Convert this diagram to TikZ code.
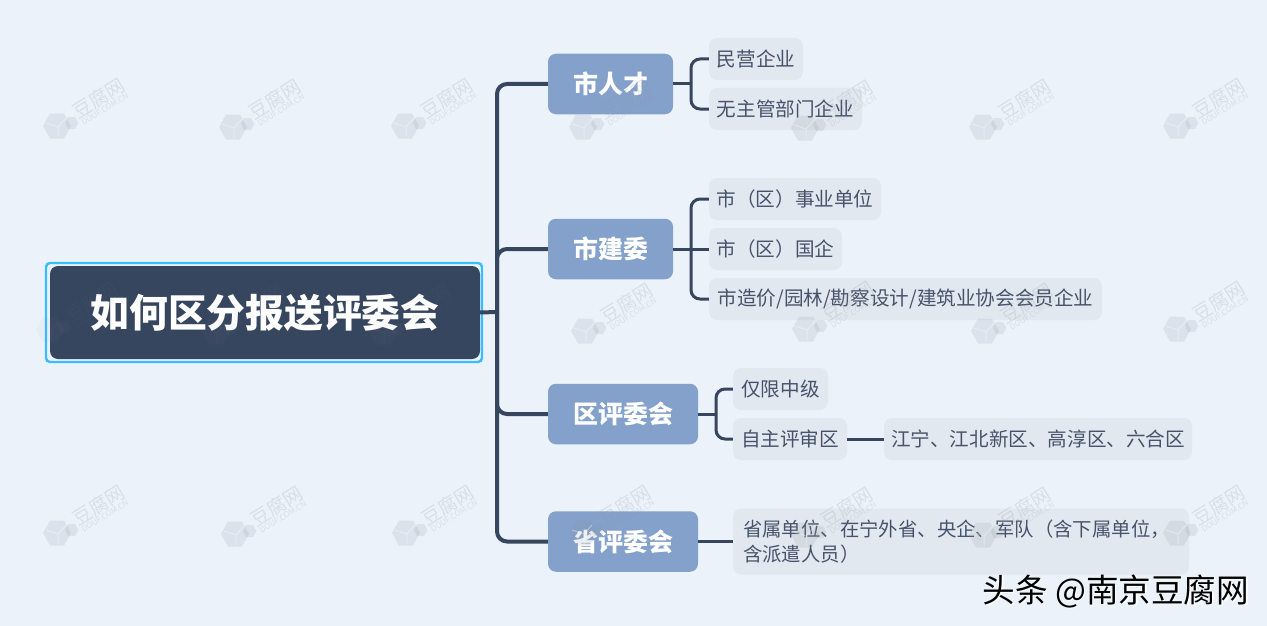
\documentclass[tikz,border=0pt]{standalone}
\usepackage{fontspec}
\setmainfont{Noto Sans CJK SC}
\definecolor{bgc}{HTML}{EBF2FA}
\definecolor{darkc}{HTML}{36465E}
\definecolor{midc}{HTML}{84A1CB}
\definecolor{leafc}{HTML}{E2E8F0}
\definecolor{leaft}{HTML}{46536A}
\definecolor{ringc}{HTML}{38BDFD}
\definecolor{wmc}{HTML}{8C939E}
\newcommand{\wmtxt}{.2}
\newcommand{\wmhex}{.16}
\newcommand{\wmlin}{.35}
\tikzset{
  x=1pt,y=-1pt,
  ringbox/.style={draw=ringc,line width=2.4pt,rounded corners=4pt,minimum width=436pt,minimum height=99pt,inner sep=0pt},
  rootbox/.style={fill=darkc,rounded corners=8pt,minimum width=430pt,minimum height=93pt,inner sep=0pt,text=white,font=\fontsize{38.8}{44}\selectfont\bfseries},
  midbox/.style={fill=midc,rounded corners=8pt,minimum height=60.5pt,inner sep=0pt,text=white,font=\fontsize{25}{30}\selectfont\bfseries},
  leafbox/.style={fill=leafc,rounded corners=8pt,minimum height=42pt,inner sep=0pt,text=leaft,font=\fontsize{19.6}{24}\selectfont},
  spine/.style={draw=darkc,line width=4pt,rounded corners=10pt},
  twig/.style={draw=darkc,line width=3pt,rounded corners=9pt},
  wmtext/.style={text=wmc,text opacity=\wmtxt,rotate=32,inner sep=0pt},
}
\newcommand{\wmark}[3]{%
  \begin{scope}[shift={(#2,#3)}]
    \fill[wmc,opacity=\wmhex] (14,0)--(7,-12.5)--(-7,-12.5)--(-14,0)--(-7,12.5)--(7,12.5)--cycle;
    \draw[white,opacity=\wmlin,line width=1pt] (-11,-3)--(1,1)--(1,11) (1,1)--(9,-8);
    \fill[wmc,opacity=\wmhex] (21.5,-3)--(18,-9)--(11,-9)--(8,-3)--(11,3)--(18,3)--cycle;
    \node[wmtext,font=\fontsize{19}{22}\selectfont] (#1t) at (42,-28) {豆腐网};
    \node[wmtext,font=\fontsize{8}{9}\selectfont] (#1d) at (48,-17) {DOUF.COM.CN};
  \end{scope}}
\begin{document}
\begin{tikzpicture}
\useasboundingbox (0,0) rectangle (1267,626);
\fill[bgc] (0,0) rectangle (1267,626);
% nodes
\node[ringbox] (ring) at (264,312.5) {};
\node[rootbox] (root) at (265,312.5) {\raisebox{1.2pt}{如何区分报送评委会}};
\coordinate (hub) at (497,312);
\node[midbox,minimum width=125pt] (m1) at (610.5,84) {市人才};
\node[midbox,minimum width=125pt] (m2) at (610.5,249) {市建委};
\node[midbox,minimum width=150pt] (m3) at (623,414) {区评委会};
\node[midbox,minimum width=150pt] (m4) at (623,541.5) {省评委会};
\node[leafbox,minimum width=94pt] (a1) at (756,59) {民营企业};
\node[leafbox,minimum width=153pt] (a2) at (785.5,109) {无主管部门企业};
\node[leafbox,minimum width=172pt] (b1) at (795,199) {市（区）事业单位};
\node[leafbox,minimum width=133pt] (b2) at (775.5,249) {市（区）国企};
\node[leafbox,minimum width=393pt] (b3) at (905.5,299) {市造价/园林/勘察设计/建筑业协会会员企业};
\node[leafbox,minimum width=95pt] (c1) at (780.5,389) {仅限中级};
\node[leafbox,minimum width=114pt] (c2) at (790,439) {自主评审区};
\node[leafbox,minimum width=308pt] (c3) at (1038,439) {江宁、江北新区、高淳区、六合区};
\node[leafbox,minimum width=456pt,minimum height=66pt,align=left,text width=436pt,font=\fontsize{19.4}{24.5}\selectfont] (d1) at (961,541.5) {省属单位、在宁外省、央企、军队（含下属单位，\\含派遣人员）};
% connectors
\draw[spine] (root.east) -- (hub);
\draw[spine] (hub) |- (m1.west);
\draw[spine] (hub) |- (m2.west);
\draw[spine] (hub) |- (m3.west);
\draw[spine] (hub) |- (m4.west);
\coordinate (h1) at (691,84);
\coordinate (h2) at (691,249);
\coordinate (h3) at (716,414);
\draw[twig] (m1.east) -- (h1);
\draw[twig] (h1) |- (a1.west);
\draw[twig] (h1) |- (a2.west);
\draw[twig] (m2.east) -- (h2);
\draw[twig] (h2) |- (b1.west);
\draw[twig] (h2) -- (b2.west);
\draw[twig] (h2) |- (b3.west);
\draw[twig] (m3.east) -- (h3);
\draw[twig] (h3) |- (c1.west);
\draw[twig] (h3) |- (c2.west);
\draw[twig] (c2.east) -- (c3.west);
\draw[twig] (m4.east) -- (d1.west);
% watermarks
\wmark{w1}{57}{126}\wmark{w2}{233}{127}\wmark{w3}{405}{126}\wmark{w4}{583}{127}\wmark{w5}{805}{128}\wmark{w6}{983}{127}\wmark{w7}{1177}{126}
\wmark{x4}{585}{331}\wmark{x5}{806}{329}\wmark{x6}{985}{331}\wmark{x7}{1177}{329}
\wmark{y1}{57}{533}\wmark{y2}{235}{534}\wmark{y3}{406}{533}\wmark{y4}{583}{533}\wmark{y5}{805}{535}\wmark{y6}{983}{535}\wmark{y7}{1177}{533}
% faint on the dark title box
\renewcommand{\wmtxt}{.05}\renewcommand{\wmhex}{.05}\renewcommand{\wmlin}{.03}
\wmark{x1}{50}{330}\wmark{x2}{216}{332}\wmark{x3}{383}{332}
% signature
\node[text=white,font=\fontsize{32.6}{36}\selectfont,inner sep=0pt] (sigs) at (1117.5,592) {头条 @南京豆腐网};
\node[text=black,font=\fontsize{32.6}{36}\selectfont,inner sep=0pt] (sig) at (1116,591) {头条 @南京豆腐网};
\end{tikzpicture}
\end{document}
